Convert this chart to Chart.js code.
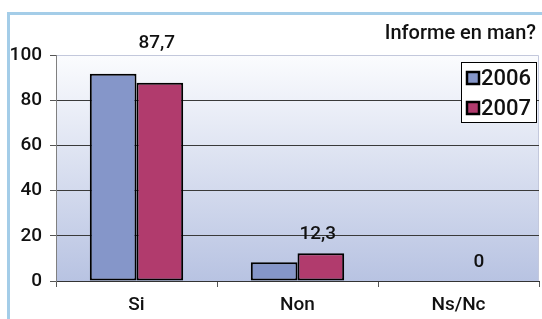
<!DOCTYPE html>
<html lang="es">
  <head>
    <meta charset="utf-8" />
    <title>Informe en man?</title>
    <style>
      * {
        margin: 0;
        padding: 0;
      }
      body {
        background: #ffffff;
      }
      .chartBox {
        width: 542px;
        height: 319px;
      }
    </style>
  </head>
  <body>
    <div class="chartBox">
      <canvas id="myChart"></canvas>
    </div>

    <script src="https://cdn.jsdelivr.net/npm/chart.js"></script>

    <script>
      const categories = ["Si", "Non", "Ns/Nc"];
      const seriesNames = ["2006", "2007"];
      const values2006 = [91.7, 8.3, 0];
      const values2007 = [87.7, 12.3, 0];
      const labelText2007 = ["87,7", "12,3", "0"];
      const titleText = "Informe en man?";

      const FONT = "Roboto, 'DejaVu Sans', sans-serif";
      const WEIGHT = "500";

      const data = {
        labels: categories,
        datasets: [
          {
            label: seriesNames[0],
            data: values2006,
            backgroundColor: "#8596c9",
            borderColor: "#000000",
            borderWidth: 2,
            borderSkipped: false,
          },
          {
            label: seriesNames[1],
            data: values2007,
            backgroundColor: "#b13b6d",
            borderColor: "#000000",
            borderWidth: 2,
            borderSkipped: false,
          },
        ],
      };

      // frame, plot background, title, legend, data labels
      const decor = {
        id: "decor",
        beforeDraw(chart) {
          const { ctx, chartArea } = chart;
          ctx.save();
          ctx.fillStyle = "#a4cde8";
          ctx.fillRect(7, 12, 535, 3);
          ctx.fillRect(7, 12, 3, 307);

          const g = ctx.createLinearGradient(0, chartArea.top, 0, chartArea.bottom);
          g.addColorStop(0, "#fbfcfe");
          g.addColorStop(1, "#b8c3e2");
          ctx.fillStyle = g;
          ctx.fillRect(chartArea.left, chartArea.top, chartArea.right - chartArea.left, chartArea.bottom - chartArea.top);
          ctx.strokeStyle = "#c3c8dc";
          ctx.lineWidth = 1;
          ctx.beginPath();
          ctx.moveTo(chartArea.left, chartArea.top + 0.5);
          ctx.lineTo(chartArea.right - 0.5, chartArea.top + 0.5);
          ctx.lineTo(chartArea.right - 0.5, chartArea.bottom);
          ctx.stroke();
          ctx.restore();
        },
        afterDraw(chart) {
          const { ctx, chartArea } = chart;
          ctx.save();
          ctx.fillStyle = "#111111";
          ctx.font = WEIGHT + " 20px " + FONT;
          ctx.textAlign = "right";
          ctx.textBaseline = "middle";
          ctx.fillText(titleText, 536, 34);

          // data labels for the 2007 series; tall bars get theirs above the plot
          ctx.font = WEIGHT + " 19px " + FONT;
          ctx.textAlign = "center";
          const meta = chart.getDatasetMeta(1);
          meta.data.forEach((bar, i) => {
            let y = bar.y - 19;
            if (y < chartArea.top + 30) y = chartArea.top - 12;
            ctx.fillText(labelText2007[i], bar.x - 3, y);
          });

          // legend
          const lx = 461, ly = 62, lw = 75, lh = 60;
          ctx.fillStyle = "#ffffff";
          ctx.fillRect(lx, ly, lw, lh);
          ctx.strokeStyle = "#000000";
          ctx.lineWidth = 1;
          ctx.strokeRect(lx + 0.5, ly + 0.5, lw, lh);
          chart.data.datasets.forEach((ds, i) => {
            const cy = ly + 16 + i * 30;
            ctx.fillStyle = ds.backgroundColor;
            ctx.fillRect(lx + 6, cy - 6, 12, 12);
            ctx.strokeStyle = "#000000";
            ctx.lineWidth = 2.5;
            ctx.strokeRect(lx + 6, cy - 6, 12, 12);
            ctx.fillStyle = "#111111";
            ctx.textAlign = "left";
            ctx.font = WEIGHT + " 22px " + FONT;
            ctx.fillText(ds.label, lx + 20, cy + 1);
          });
          ctx.restore();
        },
      };

      const tickFont = { family: FONT, size: 19, weight: WEIGHT };

      const config = {
        type: "bar",
        data: data,
        options: {
          responsive: false,
          animation: false,
          layout: {
            padding: { left: 0, top: 55, right: 3, bottom: 0 },
          },
          datasets: {
            bar: {
              categoryPercentage: 0.58,
              barPercentage: 1,
            },
          },
          plugins: {
            legend: { display: false },
            tooltip: { enabled: false },
          },
          scales: {
            x: {
              grid: {
                offset: true,
                drawOnChartArea: false,
                tickLength: 6,
                tickColor: "#555555",
              },
              border: { color: "#333333", width: 1 },
              ticks: {
                color: "#111111",
                font: tickFont,
                padding: 7,
              },
              afterFit(scale) {
                scale.height = 38;
              },
            },
            y: {
              min: 0,
              max: 100,
              ticks: {
                stepSize: 20,
                color: "#111111",
                font: tickFont,
                padding: 8,
              },
              grid: {
                tickLength: 6,
                tickColor: "#555555",
                color: (c) =>
                  c.tick && (c.tick.value === 0 || c.tick.value === 100)
                    ? "rgba(0,0,0,0)"
                    : "#3a3a3a",
              },
              border: { color: "#808080", width: 1 },
              afterFit(scale) {
                scale.width = 56;
              },
            },
          },
        },
        plugins: [decor],
      };

      const canvas = document.getElementById("myChart");
      canvas.width = 542;
      canvas.height = 319;
      const myChart = new Chart(canvas, config);
    </script>
  </body>
</html>
